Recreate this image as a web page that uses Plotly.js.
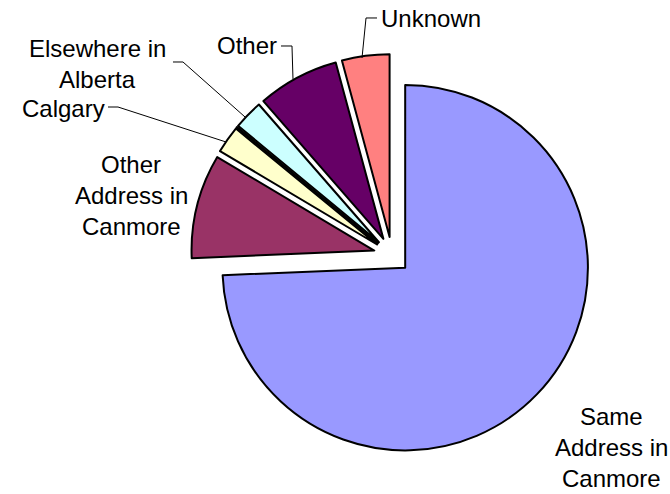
<!DOCTYPE html>
<html>
<head>
<meta charset="utf-8">
<script src="https://cdn.plot.ly/plotly-3.0.1.min.js"></script>
<style>html,body{margin:0;padding:0;background:#fff;}#chart{width:670px;height:494px;}</style>
</head>
<body>
<div id="chart"></div>
<script>
// Data (percent shares; order clockwise from 12 o'clock)
const categories = ["Same Address in Canmore", "Other Address in Canmore", "Calgary", "(tiny)", "Elsewhere in Alberta", "Other", "Unknown"];
const values = [74.3, 9.2, 2.4, 0.05, 2.6, 7.2, 4.2];
const colors = ["#9999FF", "#993366", "#FFFFCC", "#000000", "#CCFFFF", "#660066", "#FF8080"];

const W = 670, H = 494;
const px = (x, y) => [x / W, 1 - y / H];
function pathOf(pts) {
  return pts.map((p, i) => { const q = px(p[0], p[1]); return (i ? "L" : "M") + q[0].toFixed(4) + "," + q[1].toFixed(4); }).join(" ");
}
const font = {family: "Liberation Sans, Arial, sans-serif", size: 24, color: "#000"};
function label(lines, x, y0, step) {
  return lines.map((t, i) => {
    const q = px(x, y0 + i * step);
    return {text: t, x: q[0], y: q[1], xref: "paper", yref: "paper", showarrow: false, xanchor: "center", yanchor: "middle", font: font};
  });
}

const annotations = [].concat(
  label(["Unknown"], 431, 19, 0),
  label(["Other"], 247, 46, 0),
  label(["Elsewhere in"], 97, 48, 0),
  label(["Alberta"], 97, 79, 0),
  label(["Calgary"], 63, 108, 0),
  label(["Other", "Address in", "Canmore"], 131, 164, 31),
  label(["Same", "Address in", "Canmore"], 611, 416, 31)
);

const leaderLines = [
  [[377, 18], [366, 18], [362, 58]],
  [[281, 46], [292, 46], [293, 79]],
  [[173, 62], [183, 62], [245, 117]],
  [[108, 107], [118, 107], [226, 142]]
].map(p => ({type: "path", xref: "paper", yref: "paper", path: pathOf(p), line: {color: "#000", width: 1}}));

const trace = {
  type: "pie",
  labels: categories,
  values: values,
  sort: false,
  direction: "clockwise",
  rotation: 0,
  pull: values.map(() => 0.1),
  marker: {colors: colors, line: {color: "#000", width: 2}},
  textinfo: "none",
  hoverinfo: "skip",
  showlegend: false,
  domain: {x: [191 / W, 593 / W], y: [1 - 456 / H, 1 - 54 / H]}
};

Plotly.newPlot("chart", [trace], {
  width: W, height: H,
  margin: {l: 0, r: 0, t: 0, b: 0},
  paper_bgcolor: "#fff",
  showlegend: false,
  annotations: annotations,
  shapes: leaderLines
}, {staticPlot: true});
</script>
</body>
</html>
